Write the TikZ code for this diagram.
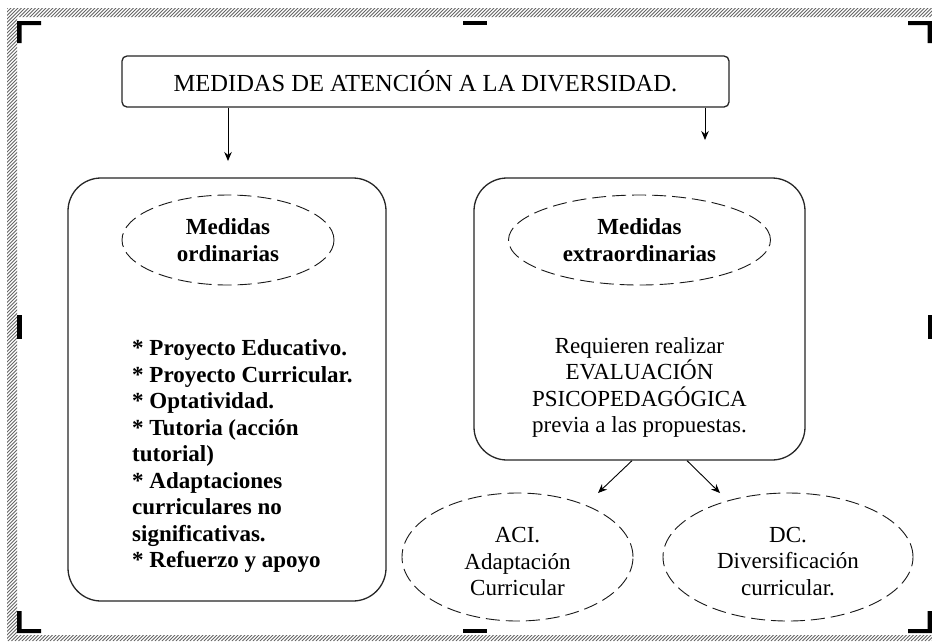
\documentclass[tikz,border=0pt]{standalone}
\usepackage{fontspec}
\setmainfont{Liberation Serif}
\usetikzlibrary{shapes.geometric,arrows.meta}
\begin{document}
\begin{tikzpicture}[x=1pt,y=-1pt,
  frame/.style={draw=black!85, line width=1.3pt},
  ell/.style={ellipse, draw=black!90, dash pattern=on 14pt off 6pt, line width=0.9pt, inner sep=0pt},
  arr/.style={draw=black, line width=0.9pt, -{Stealth[length=9pt,width=7.5pt]}},
  handle/.style={fill=black},
  hatch/.style={draw=black!60, line width=0.9pt},
  txt/.style={font=\fontsize{23}{26.5}\selectfont, align=center, inner sep=0pt},
  btxt/.style={font=\fontsize{23}{26.5}\selectfont\bfseries, align=center, inner sep=0pt},
]
\useasboundingbox (0,0) rectangle (932,641);
\fill[white] (0,0) rectangle (932,641);

% hatched selection frame
\begin{scope}
  \clip (7,8) rectangle (932,17) (7,8) rectangle (17,641) (7,635) rectangle (932,641);
  \foreach \i in {-650,-646.5,...,935} \draw[hatch] (\i,641) -- ++(641,-641);
\end{scope}

% sizing handles
\fill[handle] (17,21) rectangle (41,25) (17,21) rectangle (21.5,43);
\fill[handle] (908,21) rectangle (932,25) (927.5,21) rectangle (932,43);
\fill[handle] (17,629) rectangle (41,633) (17,611) rectangle (21.5,633);
\fill[handle] (908,629) rectangle (932,633) (927.5,611) rectangle (932,633);
\fill[handle] (463,21) rectangle (487,25);
\fill[handle] (463,629) rectangle (487,633);
\fill[handle] (17,315) rectangle (21.5,339);
\fill[handle] (927.5,315) rectangle (932,339);

% title
\node[frame, rounded corners=5pt, minimum width=607pt, minimum height=51pt,
      font=\fontsize{24.5}{28}\selectfont, inner sep=0pt] (title) at (425.5,81.5)
      {MEDIDAS DE ATENCIÓN A LA DIVERSIDAD.};

% main boxes
\node[frame, rounded corners=33pt, minimum width=318pt, minimum height=423pt] (lbox) at (227,389.5) {};
\node[frame, rounded corners=33pt, minimum width=331pt, minimum height=282pt] (rbox) at (639.5,319) {};

% ellipses in boxes
\node[ell, btxt, minimum width=212pt, minimum height=90pt] (ord) at (228,240) {Medidas\\ordinarias};
\node[ell, btxt, minimum width=262pt, minimum height=90pt] (ext) at (639.5,240) {Medidas\\extraordinarias};

% left list
\node[btxt, align=left, anchor=north west] (list) at (132,339.5)
  {* Proyecto Educativo.\\* Proyecto Curricular.\\* Optatividad.\\* Tutoria (acción\\tutorial)\\* Adaptaciones\\curriculares no\\significativas.\\* Refuerzo y apoyo};

% right text
\node[txt, anchor=north] (req) at (639.5,337)
  {Requieren realizar\\EVALUACIÓN\\PSICOPEDAGÓGICA\\previa a las propuestas.};

% lower ellipses
\node[ell, minimum width=231pt, minimum height=128pt] (aci) at (517.5,557) {};
\node[txt, yshift=-4.5pt] (acit) at (aci.center) {ACI.\\Adaptación\\Curricular};
\node[ell, minimum width=250pt, minimum height=128pt] (dc) at (788,557) {};
\node[txt, yshift=-4.5pt] (dct) at (dc.center) {DC.\\Diversificación\\curricular.};

% connectors
\coordinate (t1) at (228,161);
\coordinate (t2) at (705,140);
\draw[arr] (t1 |- title.south) -- (t1);
\draw[arr] (t2 |- title.south) -- (t2);
\coordinate (s1) at (632,0);
\coordinate (s2) at (687,0);
\coordinate (a1) at (598,493);
\coordinate (a2) at (720,493);
\draw[arr] (s1 |- rbox.south) -- (a1);
\draw[arr] (s2 |- rbox.south) -- (a2);
\end{tikzpicture}
\end{document}
